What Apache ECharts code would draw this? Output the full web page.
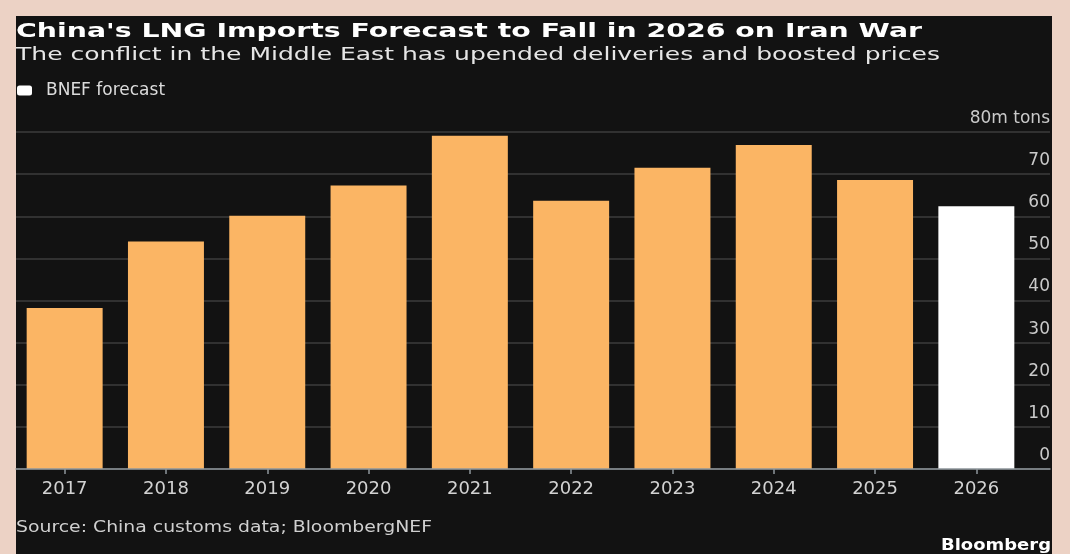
<!DOCTYPE html>
<html>
<head>
<meta charset="utf-8">
<script src="https://cdn.jsdelivr.net/npm/echarts@6/dist/echarts.min.js"></script>
<style>
html,body{margin:0;padding:0;background:#ecd2c5;}
#chart{width:1070px;height:554px;}
</style>
</head>
<body>
<div id="chart"></div>
<script>
// ---- data ----
var years = ['2017','2018','2019','2020','2021','2022','2023','2024','2025','2026'];
var actualImports = [38.2, 54.0, 60.1, 67.3, 79.1, 63.7, 71.5, 76.9, 68.6, null];
var bnefForecast = [null, null, null, null, null, null, null, null, null, 62.4];
var yTicks = [0, 10, 20, 30, 40, 50, 60, 70, 80];
var yUnit = 'm tons';

var titleText = "China's LNG Imports Forecast to Fall in 2026 on Iran War";
var subtitleText = 'The conflict in the Middle East has upended deliveries and boosted prices';
var sourceText = 'Source: China customs data; BloombergNEF';
var brandText = 'Bloomberg';

// ---- helpers: horizontal scale so text spans the reference width ----
var mctx = document.createElement('canvas').getContext('2d');
function fitScale(text, font, targetWidth) {
  mctx.font = font;
  var w = mctx.measureText(text).width;
  return w > 0 ? targetWidth / w : 1;
}
var FF = '"DejaVu Sans", Verdana, sans-serif';

var chart = echarts.init(document.getElementById('chart'));

var option = {
  backgroundColor: '#ecd2c5',
  animation: false,
  legend: {
    data: ['BNEF forecast'],
    left: 17,
    top: 82,
    padding: 0,
    itemWidth: 15,
    itemHeight: 10,
    icon: 'roundRect',
    textStyle: { color: '#dcdcdc', fontSize: 17, fontFamily: FF, padding: [0, 0, 0, 9] }
  },
  grid: [
    { left: 16, right: 20, top: 132, bottom: 85 },
    { left: 14, right: 43, top: 132, bottom: 85 }
  ],
  xAxis: [
    {
      gridIndex: 0, type: 'value', min: 0, max: 1, z: 5,
      axisLine: { show: true, onZero: true, lineStyle: { color: '#8f979c', width: 1.5 } },
      axisTick: { show: false }, axisLabel: { show: false }, splitLine: { show: false }
    },
    {
      gridIndex: 1, type: 'category', data: years,
      axisLine: { show: false },
      axisTick: { show: true, alignWithLabel: true, length: 5, lineStyle: { color: '#8f979c', width: 1.5 } },
      axisLabel: { color: '#d2d2d2', fontSize: 18, fontFamily: FF, margin: 11 }
    }
  ],
  yAxis: [
    {
      gridIndex: 0, type: 'value', position: 'right', min: 0, max: 80, interval: 10,
      axisLine: { show: false }, axisTick: { show: false },
      splitLine: { show: true, lineStyle: { color: '#3d3d3d', width: 1.5 } },
      axisLabel: {
        inside: true, margin: 0, color: '#cacaca', fontSize: 17, fontFamily: FF,
        verticalAlign: 'bottom', padding: [0, 0, 5, 0],
        formatter: function (v) { return v === yTicks[yTicks.length - 1] ? v + yUnit : String(v); }
      }
    },
    {
      gridIndex: 1, type: 'value', min: 0, max: 80, interval: 10, show: false,
      splitLine: { show: false }
    }
  ],
  series: [
    {
      name: 'Actual', type: 'bar', xAxisIndex: 1, yAxisIndex: 1,
      data: actualImports, barWidth: '75%', barGap: '-100%',
      itemStyle: { color: '#fbb564' }
    },
    {
      name: 'BNEF forecast', type: 'bar', xAxisIndex: 1, yAxisIndex: 1,
      data: bnefForecast, barWidth: '75%', barGap: '-100%',
      itemStyle: { color: '#ffffff' }
    }
  ],
  graphic: [
    { type: 'rect', z: -10, silent: true, shape: { x: 16, y: 16, width: 1036, height: 538 },
      style: { fill: '#121212' } },
    { type: 'text', x: 16, y: 42, scaleX: fitScale(titleText, 'bold 20px ' + FF, 906),
      style: { text: titleText, fill: '#ffffff', font: 'bold 20px ' + FF, verticalAlign: 'bottom' } },
    { type: 'text', x: 16, y: 64, scaleX: fitScale(subtitleText, '18px ' + FF, 924),
      style: { text: subtitleText, fill: '#e6e6e6', font: '18px ' + FF, verticalAlign: 'bottom' } },
    { type: 'text', x: 16, y: 536, scaleX: fitScale(sourceText, '16px ' + FF, 416),
      style: { text: sourceText, fill: '#d0d0d0', font: '16px ' + FF, verticalAlign: 'bottom' } },
    { type: 'text', x: 1051, y: 554, scaleX: fitScale(brandText, 'bold 15px ' + FF, 110),
      style: { text: brandText, fill: '#ffffff', font: 'bold 15px ' + FF, align: 'right', verticalAlign: 'bottom' } }
  ]
};
chart.setOption(option);
</script>
</body>
</html>
